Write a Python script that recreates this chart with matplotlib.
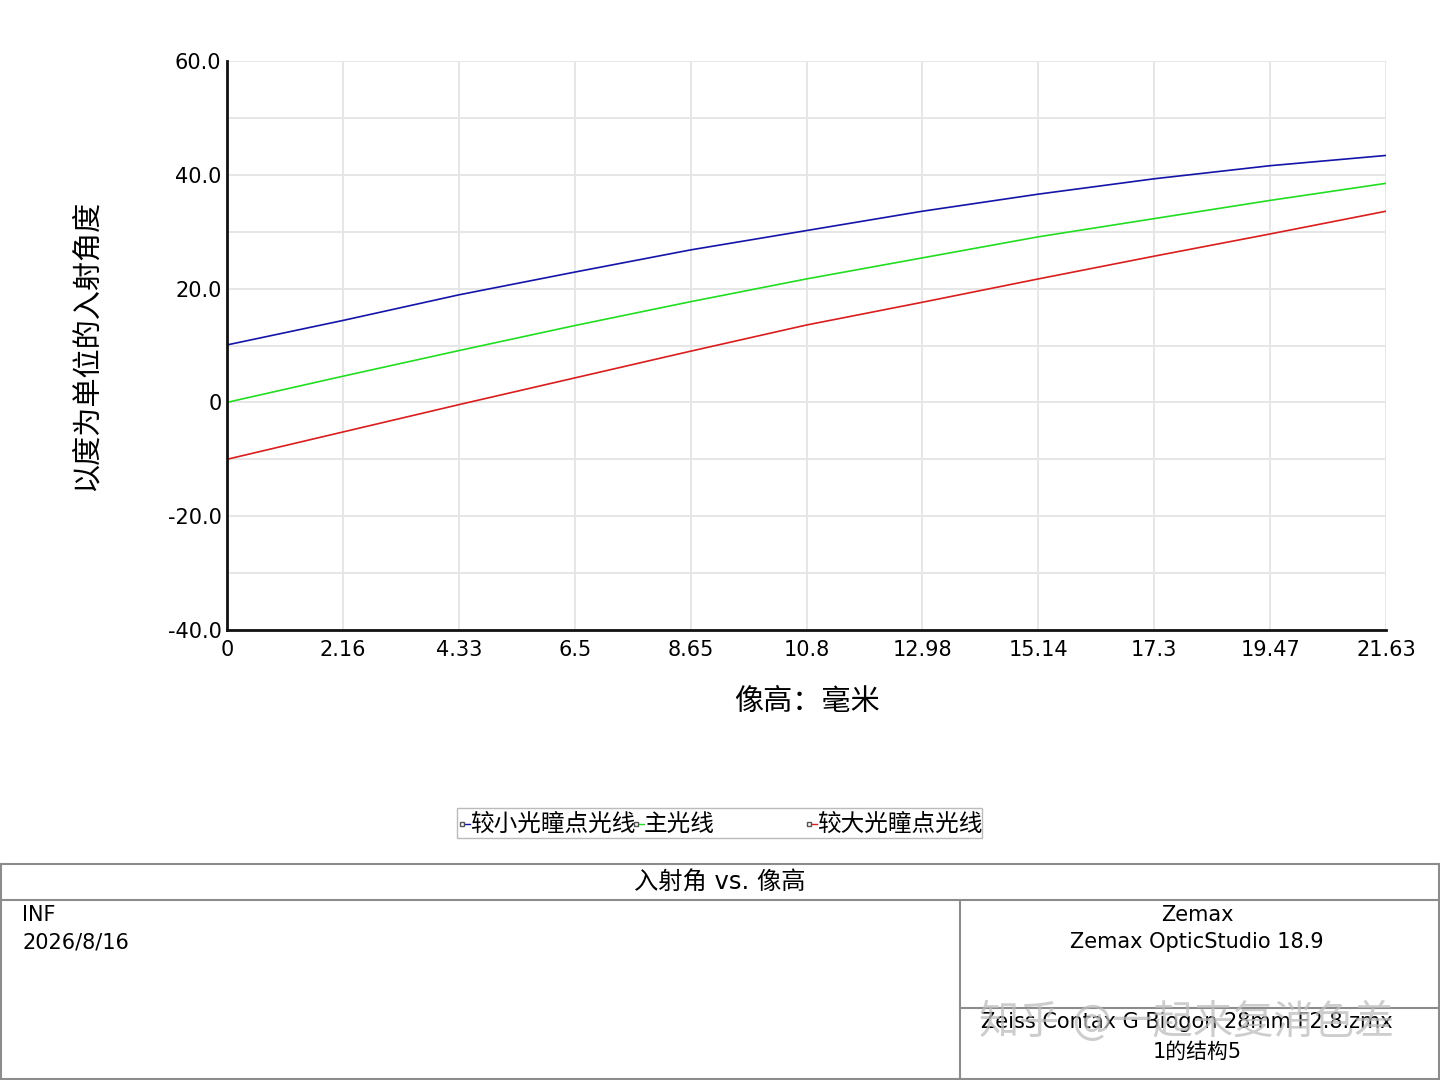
import matplotlib
matplotlib.use("Agg")
import matplotlib.pyplot as plt
from matplotlib.lines import Line2D
from matplotlib.patches import Rectangle

plt.rcParams['font.family'] = ['DejaVu Sans', 'Noto Sans CJK SC']

# 像高 (mm)
image_height = [0, 2.163, 4.326, 6.489, 8.652, 10.815, 12.978, 15.141, 17.304, 19.467, 21.63]
x_tick_labels = ["0", "2.16", "4.33", "6.5", "8.65", "10.8", "12.98", "15.14", "17.3", "19.47", "21.63"]

# 入射角 (度)
upper_ray = [10.1, 14.4, 18.9, 22.9, 26.8, 30.2, 33.6, 36.6, 39.3, 41.6, 43.4]
chief_ray = [0.0, 4.6, 9.1, 13.5, 17.7, 21.7, 25.4, 29.1, 32.3, 35.5, 38.5]
lower_ray = [-10.0, -5.2, -0.4, 4.3, 9.0, 13.6, 17.6, 21.7, 25.7, 29.6, 33.6]

y_ticks = [60, 40, 20, 0, -20, -40]
y_tick_labels = ["60.0", "40.0", "20.0", "0", "-20.0", "-40.0"]

series = [
    ("较小光瞳点光线", upper_ray, "#1414a8"),
    ("主光线", chief_ray, "#22dd22"),
    ("较大光瞳点光线", lower_ray, "#d81e1e"),
]

fig = plt.figure(figsize=(14.4, 10.8), dpi=100)
ax = fig.add_axes([227 / 1440, 1 - 630 / 1080, (1386 - 227) / 1440, (630 - 61) / 1080])

for name, vals, col in series:
    ax.plot(image_height, vals, color=col, lw=1.2)

ax.set_xlim(0, 21.63)
ax.set_ylim(-40, 60)
ax.set_xticks(image_height)
ax.set_xticklabels(x_tick_labels)
ax.set_yticks(y_ticks)
ax.set_yticklabels(y_tick_labels)
ax.set_yticks(range(-30, 60, 20), minor=True)
ax.grid(True, which="both", color="#e6e6e6", lw=1.4)
ax.tick_params(axis="both", which="both", length=0, labelsize=15)
ax.tick_params(axis="x", pad=7)
ax.tick_params(axis="y", pad=4)

for s in ["top", "right"]:
    ax.spines[s].set_visible(False)
ax.spines["left"].set_color("#111111")
ax.spines["left"].set_linewidth(2)
ax.spines["bottom"].set_color("#111111")
ax.spines["bottom"].set_linewidth(2)

ax.set_xlabel("像高：毫米", fontsize=21, labelpad=20)
ax.set_ylabel("以度为单位的入射角度", fontsize=21, labelpad=48)

# 图例
fig.patches.append(Rectangle((457 / 1440, 1 - 838 / 1080), (982 - 457) / 1440, 30 / 1080,
                             transform=fig.transFigure, fill=False, edgecolor="#bbbbbb", lw=1))
legend_x = [459, 633, 806]
for (name, vals, col), lx in zip(series, legend_x):
    fig.lines.append(Line2D([(lx + 3) / 1440, (lx + 11) / 1440], [1 - 824 / 1080] * 2,
                            transform=fig.transFigure, color=col, lw=1,
                            marker="s", markersize=2.5, markevery=[0],
                            markerfacecolor="white", markeredgecolor="#555555"))
    fig.text((lx + 11) / 1440, 1 - 824 / 1080, name, fontsize=17, va="center", ha="left")

# 底部信息框
border = "#8c8c8c"
def hline(y, x0, x1):
    fig.lines.append(Line2D([x0 / 1440, x1 / 1440], [1 - y / 1080] * 2,
                            transform=fig.transFigure, color=border, lw=1.5))

def vline(x, y0, y1):
    fig.lines.append(Line2D([x / 1440] * 2, [1 - y0 / 1080, 1 - y1 / 1080],
                            transform=fig.transFigure, color=border, lw=1.5))

hline(864, 0, 1440)
hline(900, 0, 1440)
hline(1079, 0, 1440)
vline(1, 864, 1080)
vline(1439, 864, 1080)
vline(960, 900, 1080)
hline(1008, 960, 1440)

fig.text(720 / 1440, 1 - 882 / 1080, "入射角 vs. 像高", fontsize=17.5, ha="center", va="center")
fig.text(22 / 1440, 1 - 915 / 1080, "INF", fontsize=15, ha="left", va="center")
fig.text(22 / 1440, 1 - 942 / 1080, "2026/8/16", fontsize=15, ha="left", va="center")
fig.text(1197 / 1440, 1 - 915 / 1080, "Zemax", fontsize=15, ha="center", va="center")
fig.text(1197 / 1440, 1 - 942 / 1080, "Zemax OpticStudio 18.9", fontsize=15, ha="center", va="center")
fig.text(1187 / 1440, 1 - 1022 / 1080, "Zeiss Contax G Biogon 28mm F2.8.zmx", fontsize=15, ha="center", va="center")
fig.text(1197 / 1440, 1 - 1052 / 1080, "1的结构5", fontsize=15, ha="center", va="center")

# 水印
fig.text(1187 / 1440, 1 - 1022 / 1080, "知乎 @一起来复消色差", fontsize=29, ha="center", va="center",
         color="#bdbdbd", alpha=0.75)

fig.savefig("out.png", dpi=100)
